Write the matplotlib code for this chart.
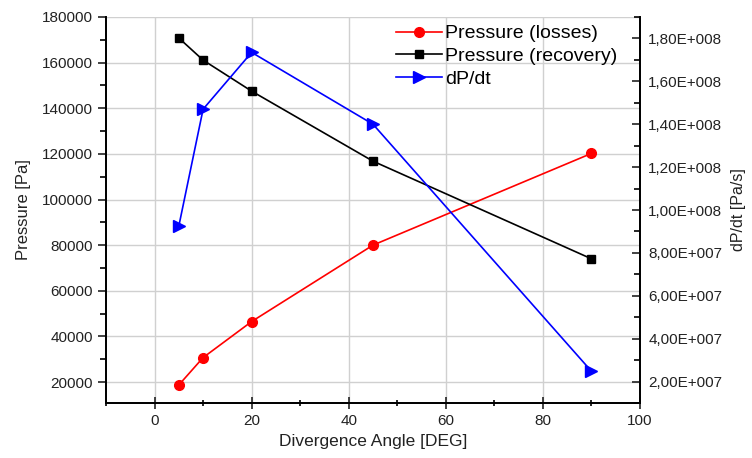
import numpy as np
import matplotlib
matplotlib.use("Agg")
import matplotlib.pyplot as plt
from matplotlib.ticker import MultipleLocator, FuncFormatter

plt.rcParams['font.family'] = ['Liberation Sans', 'DejaVu Sans']

# Data
angle = [5, 10, 20, 45, 90]
pressure_losses = [18700, 30700, 46500, 80000, 120200]
pressure_recovery = [170800, 161100, 147500, 116800, 74000]
dpdt = [9.25e7, 1.47e8, 1.735e8, 1.40e8, 2.48e7]


def sci_comma(v, pos):
    if v == 0:
        return "0"
    exp = int(np.floor(np.log10(abs(v))))
    mant = v / 10 ** exp
    return f"{mant:.2f}".replace(".", ",") + f"E+{exp:03d}"


fig = plt.figure(figsize=(7.52, 4.58), dpi=100)
ax = fig.add_axes([106 / 752, 55 / 458, 534 / 752, 386 / 458])
ax2 = ax.twinx()

l1, = ax.plot(angle, pressure_losses, color="red", lw=1.2, marker="o", ms=7, label="Pressure (losses)")
l2, = ax.plot(angle, pressure_recovery, color="black", lw=1.2, marker="s", ms=6, label="Pressure (recovery)")
l3, = ax2.plot(angle, dpdt, color="blue", lw=1.2, marker=">", ms=9, label="dP/dt")

ax.set_xlim(-10, 100)
ax.set_ylim(10800, 180000)
ax2.set_ylim(1e7, 1.9e8)

ax.xaxis.set_major_locator(MultipleLocator(20))
ax.xaxis.set_minor_locator(MultipleLocator(10))
ax.yaxis.set_major_locator(MultipleLocator(20000))
ax.yaxis.set_minor_locator(MultipleLocator(10000))
ax2.yaxis.set_major_locator(MultipleLocator(2e7))
ax2.yaxis.set_minor_locator(MultipleLocator(1e7))
ax2.yaxis.set_major_formatter(FuncFormatter(sci_comma))

ax.grid(True, which="major", color="#d0d0d0", lw=1)
ax.set_axisbelow(True)

for a in (ax, ax2):
    a.spines["top"].set_visible(False)
    for s in a.spines.values():
        s.set_linewidth(1.3)

ax.tick_params(axis="y", which="major", direction="out", length=6, width=1.2, labelsize=11, colors="#222222")
ax.tick_params(axis="y", which="minor", direction="out", length=4, width=1.2)
ax.tick_params(axis="x", which="major", direction="inout", length=9, width=1.2, labelsize=11, colors="#222222")
ax.tick_params(axis="x", which="minor", direction="inout", length=4, width=1.2)
ax2.tick_params(axis="y", which="major", direction="in", length=6, width=1.2, labelsize=11, colors="#222222", pad=6)
ax2.tick_params(axis="y", which="minor", direction="in", length=4, width=1.2)

ax.set_xlabel("Divergence Angle [DEG]", fontsize=12.5, color="#222222")
ax.set_ylabel("Pressure [Pa]", fontsize=12, color="#222222", labelpad=8)
ax2.set_ylabel("dP/dt [Pa/s]", fontsize=11.5, color="#222222", labelpad=6)

ax2.legend(handles=[l1, l2, l3], loc="upper right", bbox_to_anchor=(0.965, 0.99),
           frameon=False, fontsize=14, handlelength=2.4, labelspacing=0.26,
           handletextpad=0.15, borderaxespad=0.0, borderpad=0.2)

fig.savefig("out.png", dpi=100)
